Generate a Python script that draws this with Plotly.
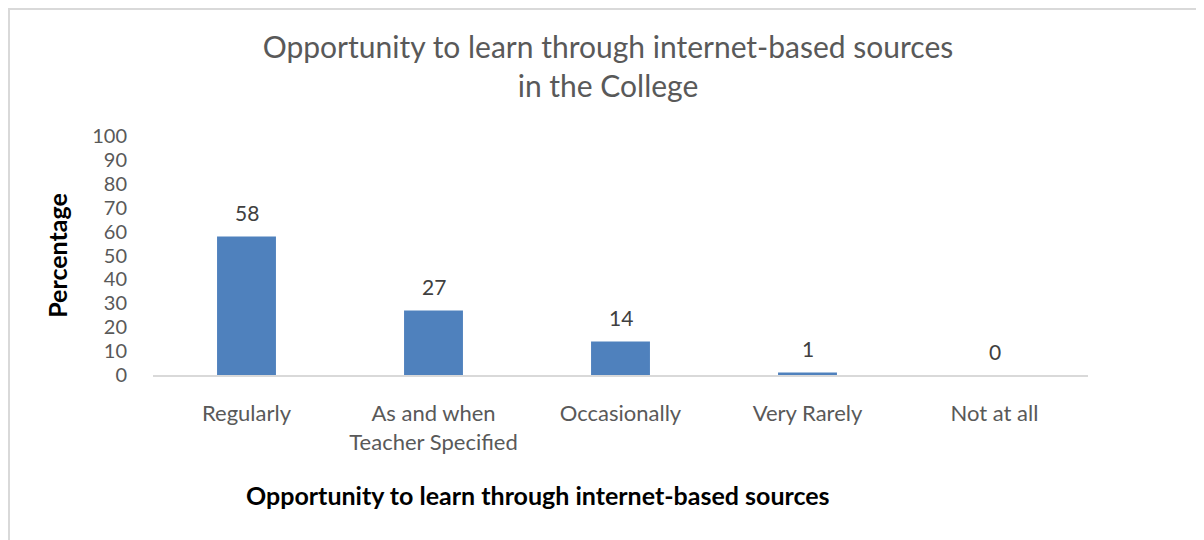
import plotly.graph_objects as go

categories = ["Regularly", "As and when<br>Teacher Specified", "Occasionally", "Very Rarely", "Not at all"]
values = [58, 27, 14, 1, 0]
y_ticks = [0, 10, 20, 30, 40, 50, 60, 70, 80, 90, 100]

# page body has an 8px margin; positions below are in figure pixels
OFF = 8
W, H = 1204, 540
L, T = 153 - OFF, 136 - OFF
R = W - (1088 - OFF)
B = H - (375 - OFF)
pw, ph = W - L - R, H - T - B

def px_x(px):
    return (px - OFF - L) / pw

def px_y(py):
    return (H - B - (py - OFF)) / ph

font_family = "Lato, Carlito, Calibri, sans-serif"

fig = go.Figure(
    go.Bar(
        x=categories,
        y=values,
        marker=dict(color="#4f81bd", line=dict(width=0)),
        hoverinfo="x+y",
    )
)

annotations = [
    dict(x=c, y=v, xref="x", yref="y", text=str(v), showarrow=False,
         yshift=24, font=dict(family=font_family, size=21, color="#404040"))
    for c, v in zip(categories, values)
]
annotations.append(
    dict(x=px_x(538), y=px_y(495), xref="paper", yref="paper",
         text="<b>Opportunity to learn through internet-based sources</b>",
         showarrow=False, xanchor="center", yanchor="middle",
         font=dict(family=font_family, size=25, color="#000000"))
)

fig.update_layout(
    width=W, height=H,
    margin=dict(l=L, r=R, t=T, b=B),
    paper_bgcolor="white", plot_bgcolor="white",
    bargap=0.685,
    showlegend=False,
    title=dict(
        text="Opportunity to learn through internet-based sources<br>in the College",
        x=(608 - OFF) / W, xref="container", xanchor="center",
        y=1 - 50 / H, yref="container", yanchor="top",
        font=dict(family=font_family, size=30, color="#595959"),
    ),
    font=dict(family=font_family, color="#595959"),
    annotations=annotations,
    shapes=[dict(type="rect", xref="paper", yref="paper",
                 x0=px_x(9), x1=px_x(1225), y0=px_y(560), y1=px_y(9),
                 line=dict(color="#d9d9d9", width=2), fillcolor="rgba(0,0,0,0)", layer="below")],
)

fig.update_xaxes(
    showline=True, linecolor="#d9d9d9", linewidth=2,
    showgrid=False, zeroline=False, ticks="",
    tickfont=dict(family=font_family, size=22, color="#595959"),
    ticklabelstandoff=18,
)
fig.update_yaxes(
    range=[0, 100], tickvals=y_ticks, showgrid=False, zeroline=False,
    showline=False, ticks="",
    tickfont=dict(family=font_family, size=20, color="#595959"),
    ticklabelstandoff=25,
    title=dict(text="<b>Percentage</b>", standoff=17,
               font=dict(family=font_family, size=25, color="#000000")),
)

fig.write_html("out.html")
